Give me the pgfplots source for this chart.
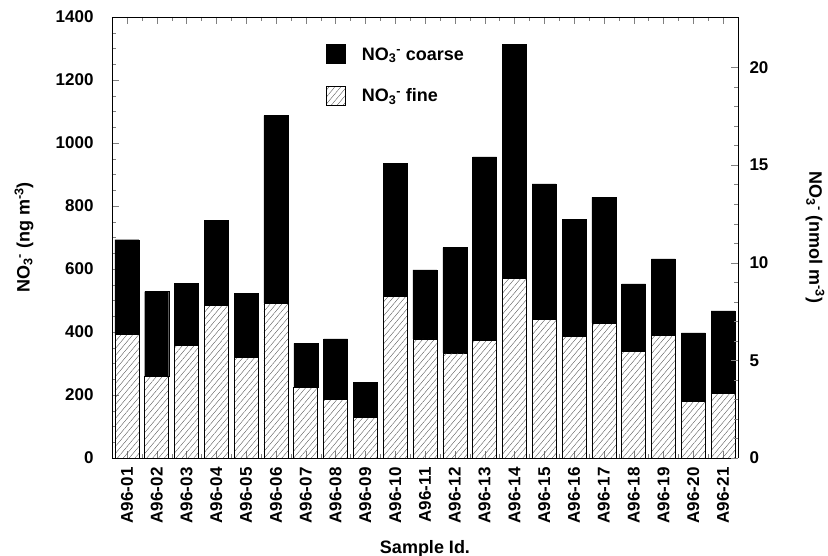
\documentclass[border=0pt]{standalone}
\usepackage{pgfplots}
\pgfplotsset{compat=1.18}
\usepackage{pgfplotstable}
\usepackage{fontspec}
\setmainfont{Liberation Sans}
\usetikzlibrary{patterns.meta}
\pgfplotstableread{
x fine coarse
1 394 299
2 260 268
3 358 197
4 485 269
5 320 203
6 492 595
7 225 139
8 187 191
9 130 111
10 514 422
11 378 219
12 334 334
13 373 583
14 571 743
15 440 430
16 387 371
17 429 398
18 338 215
19 391 241
20 181 216
21 206 261
}\datatable
\begin{document}
\begin{tikzpicture}[font=\bfseries]
\path[use as bounding box] (-112pt,-98pt) rectangle (716pt,458pt);
\begin{axis}[
  at={(0pt,0pt)}, anchor=south west,
  scale only axis, width=626pt, height=441pt,
  ymin=0, ymax=1400, ytick={0,200,...,1400},
  minor y tick num=3,
  xmin=0.5, xmax=21.5,
  xtick={1,...,21},
  minor x tick num=1,
  xticklabels={A96-01,A96-02,A96-03,A96-04,A96-05,A96-06,A96-07,A96-08,A96-09,A96-10,A96-11,A96-12,A96-13,A96-14,A96-15,A96-16,A96-17,A96-18,A96-19,A96-20,A96-21},
  xticklabel style={rotate=90, anchor=east, font=\fontsize{17}{19}\bfseries, xshift=-6pt},
  yticklabel style={font=\fontsize{17}{19}\bfseries, xshift=-15pt},
  /pgf/number format/assume math mode=true,
  /pgf/number format/1000 sep={},
  axis y line*=left,
  tick align=inside,
  major tick length=7pt, minor tick length=4pt,
  xtick pos=both,
  ybar stacked, bar width=24pt,
  ylabel={NO\textsubscript{3}\textsuperscript{-} (ng m\textsuperscript{-3})},
  ylabel style={font=\fontsize{18}{20}\bfseries, at={(axis description cs:-0.1406,0.5)}, anchor=center},
  xlabel={Sample Id.},
  xlabel style={font=\fontsize{18}{20}\bfseries, at={(axis description cs:0.5,-0.205)}, anchor=center},
  legend style={draw=none, fill=none, at={(0.337,0.943)}, anchor=north west,
    font=\fontsize{18}{20}\bfseries, row sep=22pt,
    legend cell align=left},
  reverse legend,
  legend image code/.code={\draw[#1] (0pt,-9pt) rectangle (19pt,10pt);},
  every axis legend/.append style={column sep=14pt},
]
\addplot[draw=black, line width=0.6pt, pattern={Lines[angle=50,distance=4.5pt,line width=0.35pt]}, pattern color=black!70]
  table[x=x, y=fine] {\datatable};
\addlegendentry{NO\textsubscript{3}\textsuperscript{-} fine}
\addplot[draw=black, fill=black]
  table[x=x, y=coarse] {\datatable};
\addlegendentry{NO\textsubscript{3}\textsuperscript{-} coarse}
\end{axis}
\begin{axis}[
  at={(0pt,0pt)}, anchor=south west,
  scale only axis, width=626pt, height=441pt,
  ymin=0, ymax=22.58, ytick={0,5,...,20},
  minor y tick num=4,
  xmin=0.5, xmax=21.5,
  hide x axis,
  axis y line*=right,
  tick align=inside,
  major tick length=7pt, minor tick length=4pt,
  yticklabel style={font=\fontsize{17}{19}\bfseries, xshift=8pt},
  /pgf/number format/assume math mode=true,
  ylabel={NO\textsubscript{3}\textsuperscript{-} (nmol m\textsuperscript{-3})},
  ylabel style={font=\fontsize{18}{20}\bfseries, rotate=180, at={(axis description cs:1.123,0.5)}, anchor=center},
]
\end{axis}
\end{tikzpicture}
\end{document}
